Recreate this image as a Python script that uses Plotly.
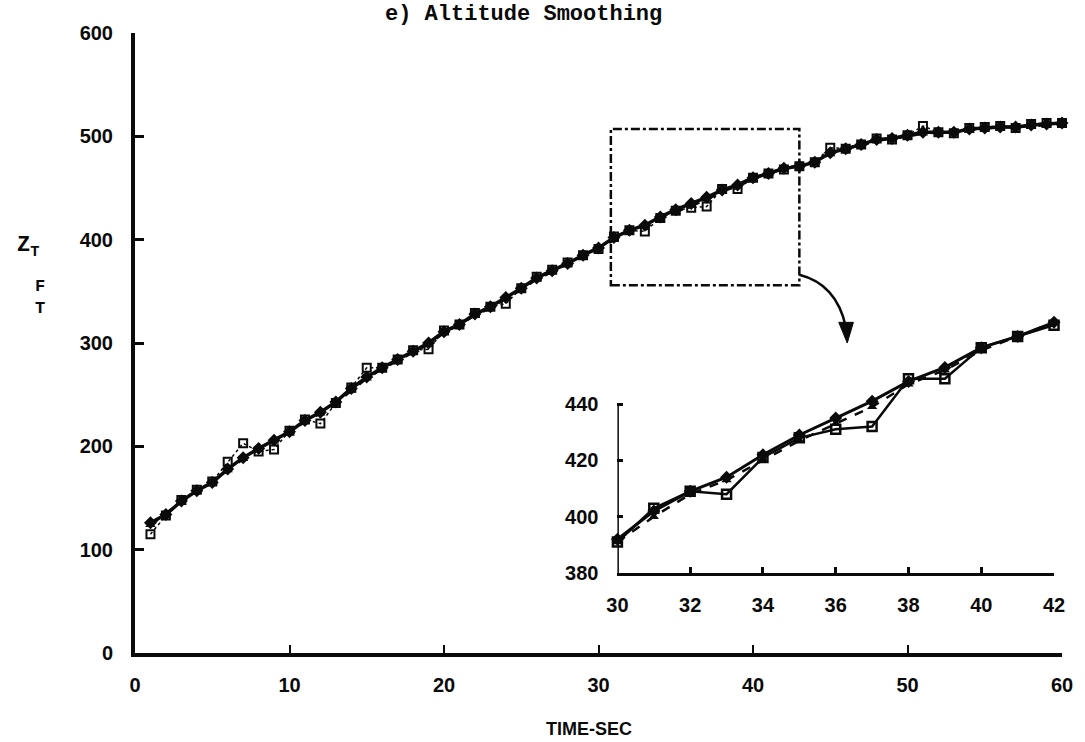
import plotly.graph_objects as go

# time axis (s)
t = list(range(1, 61))

# filtered altitude estimate (ft)
z_filter = [126, 134, 147, 157, 165, 178, 189, 198, 206, 214,
            225, 233, 243, 256, 267, 276, 284, 292, 300, 311,
            318, 328, 335, 344, 353, 363, 370, 377, 385, 392,
            402, 409, 414, 422, 429, 435, 441, 448, 453, 460,
            464, 469, 471, 475, 484, 488, 492, 497, 498, 501,
            504, 504, 504, 507, 508, 509, 509, 511, 512, 513]

# smoothed altitude estimate (ft)
z_smooth = [124, 135, 146, 156, 165, 177, 188, 197, 205, 214,
            224, 232, 242, 254, 266, 275, 283, 291, 299, 310,
            318, 327, 334, 343, 352, 362, 369, 377, 384, 391,
            400, 408, 413, 420, 427, 433, 439, 447, 452, 459,
            464, 469, 472, 476, 483, 487, 491, 496, 498, 500,
            503, 504, 505, 506, 508, 509, 509, 510, 511, 512]

# measured altitude (ft)
z_meas = [115, 133, 148, 158, 166, 185, 203, 195, 197, 215,
          226, 222, 242, 257, 276, 276, 284, 293, 294, 312,
          318, 329, 335, 338, 353, 364, 371, 378, 385, 391,
          403, 409, 408, 421, 428, 431, 432, 449, 449, 460,
          464, 468, 471, 475, 489, 488, 492, 498, 497, 501,
          510, 504, 503, 508, 509, 510, 508, 512, 513, 513]

# detail window
t0, t1 = 30, 42
main_xticks = [0, 10, 20, 30, 40, 50, 60]
main_yticks = [0, 100, 200, 300, 400, 500, 600]
inset_xticks = [30, 32, 34, 36, 38, 40, 42]
inset_yticks = [380, 400, 420, 440]

i0, i1 = t.index(t0), t.index(t1) + 1
ti = t[i0:i1]

INK = "#0a0a0a"
LBL = dict(family="Liberation Sans, Arial, sans-serif", size=20, color=INK, weight="bold")
NARROW = dict(family="Liberation Sans Narrow, Liberation Sans, sans-serif", size=20,
              color=INK, weight="bold")
MONO = "Liberation Mono, Courier New, monospace"

# plot area in pixels (left, bottom, width, height) for placing free text
PL, PB, PW, PH = 135, 89, 930, 620


def px(x, y):
    """Pixel position (from top-left) to paper coordinates."""
    return (x - PL) / PW, ((742 - y) - PB) / PH


fig = go.Figure()

# main panel
fig.add_trace(go.Scatter(x=t, y=z_meas, mode="lines+markers",
                         line=dict(color=INK, width=1.5, dash="dot"),
                         marker=dict(symbol="square-open", size=8, color=INK, line=dict(width=2)),
                         cliponaxis=False, showlegend=False))
fig.add_trace(go.Scatter(x=t, y=z_smooth, mode="lines+markers",
                         line=dict(color=INK, width=3, dash="dash"),
                         marker=dict(symbol="triangle-up", size=9, color=INK),
                         cliponaxis=False, showlegend=False))
fig.add_trace(go.Scatter(x=t, y=z_filter, mode="lines+markers",
                         line=dict(color=INK, width=3.5),
                         marker=dict(symbol="diamond", size=10, color=INK),
                         cliponaxis=False, showlegend=False))

# inset panel
fig.add_trace(go.Scatter(x=ti, y=z_meas[i0:i1], xaxis="x2", yaxis="y2", mode="lines+markers",
                         line=dict(color=INK, width=2.5),
                         marker=dict(symbol="square-open", size=9, color=INK, line=dict(width=2.5)),
                         cliponaxis=False, showlegend=False))
fig.add_trace(go.Scatter(x=ti, y=z_smooth[i0:i1], xaxis="x2", yaxis="y2", mode="lines+markers",
                         line=dict(color=INK, width=2.5, dash="dash"),
                         marker=dict(symbol="triangle-up", size=9, color=INK),
                         cliponaxis=False, showlegend=False))
fig.add_trace(go.Scatter(x=ti, y=z_filter[i0:i1], xaxis="x2", yaxis="y2", mode="lines+markers",
                         line=dict(color=INK, width=3),
                         marker=dict(symbol="diamond", size=10, color=INK),
                         cliponaxis=False, showlegend=False))

fig.update_layout(
    width=1085, height=742,
    margin=dict(l=PL, r=1085 - PL - PW, t=742 - PB - PH, b=PB),
    paper_bgcolor="white", plot_bgcolor="white",
    showlegend=False,
    xaxis=dict(range=[0, 60], tickvals=main_xticks, ticks="inside", ticklen=8, tickwidth=2,
               tickcolor=INK, showline=True, linecolor=INK, linewidth=3.5, showgrid=False,
               zeroline=False, tickfont=NARROW, ticklabelstandoff=11),
    yaxis=dict(range=[0, 600], tickvals=main_yticks, ticks="inside", ticklen=9, tickwidth=2.5,
               tickcolor=INK, showline=True, linecolor=INK, linewidth=4, showgrid=False,
               zeroline=False, tickfont=LBL, ticklabelstandoff=14),
    xaxis2=dict(domain=[0.5204, 0.9914], range=[t0, t1], anchor="y2", tickvals=inset_xticks,
                ticks="inside", ticklen=6, tickwidth=2.5, tickcolor=INK, showline=True,
                linecolor=INK, linewidth=3, showgrid=False, zeroline=False, tickfont=LBL,
                ticklabelstandoff=12),
    yaxis2=dict(domain=[0.129, 0.547], range=[380, 472], anchor="x2", tickvals=inset_yticks,
                ticks="inside", ticklen=6, tickwidth=2.5, tickcolor=INK, showline=False,
                showgrid=False, zeroline=False, tickfont=LBL, ticklabelstandoff=18),
)

# inset vertical axis spans only its labelled range
fig.add_shape(type="line", xref="x2", yref="y2", x0=t0, x1=t0, y0=380, y1=440,
              line=dict(color=INK, width=3))

# zoom window on the main curve
fig.add_shape(type="rect", xref="x", yref="y", x0=30.8, x1=43.0, y0=356, y1=507,
              line=dict(color=INK, width=2.5, dash="dashdot"))

# curved connector from the window to the inset, ending in a small arrowhead
fig.add_shape(type="path", xref="x", yref="y", path="M 43.0,366 Q 45.4,357 46.0,316",
              line=dict(color=INK, width=2.5))
fig.add_shape(type="path", xref="x", yref="y", path="M 45.55,320 L 46.5,320 L 46.1,300 Z",
              fillcolor=INK, line=dict(color=INK, width=1))

# title and axis titles
for text, (x, y), font in [
    ("e) Altitude Smoothing", (525, 15), dict(family=MONO, size=22, color=INK, weight="bold")),
    ("TIME-SEC", (590, 729), dict(family=NARROW["family"], size=18, color=INK, weight="bold")),
    ("Z<sub>T</sub>", (28, 247), dict(family=MONO, size=22, color=INK, weight="bold")),
    ("F<br>T", (40, 297), dict(family=MONO, size=17, color=INK, weight="bold")),
]:
    xp, yp = px(x, y)
    fig.add_annotation(x=xp, y=yp, xref="paper", yref="paper", text=text, showarrow=False,
                       xanchor="center", yanchor="middle", font=font)

fig.write_html("out.html")
